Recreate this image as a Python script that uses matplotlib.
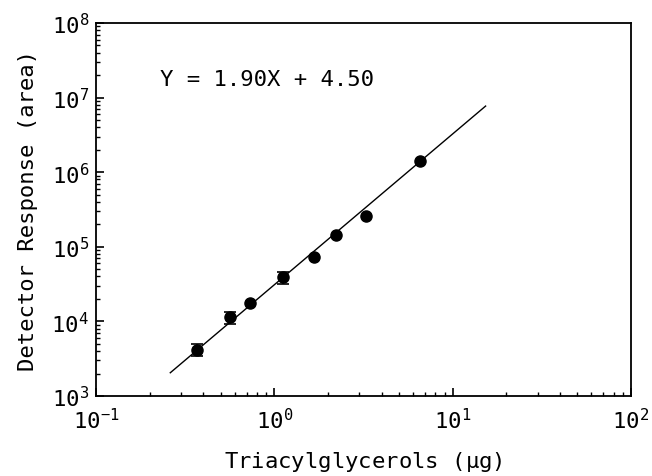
import numpy as np
import matplotlib
matplotlib.use('Agg')
import matplotlib.pyplot as plt
from matplotlib.ticker import LogLocator, NullFormatter

# %% Data
x_ug = [0.369, 0.561, 0.733, 1.113, 1.66, 2.23, 3.28, 6.59]
y_area = [4200, 11350, 17660, 38800, 74100, 144000, 259000, 1.41e6]
y_err = [800, 2000, 0, 7500, 0, 0, 0, 0]

fit_x = [0.261, 15.3]
fit_y = [2050, 7.7e6]
fit_label = 'Y = 1.90X + 4.50'

# %% Plot
plt.rcParams['font.family'] = ['DejaVu Sans Mono', 'DejaVu Sans']
plt.rcParams['mathtext.default'] = 'regular'

fig = plt.figure(figsize=(6.52, 4.77), dpi=100)
ax = fig.add_axes([96/652, 80/477, 535/652, 373/477])

ax.set_xscale('log')
ax.set_yscale('log')
ax.set_xlim(0.1, 100)
ax.set_ylim(1e3, 1e8)

ax.plot(fit_x, fit_y, color='black', lw=1.0)

x = np.array(x_ug)
y = np.array(y_area)
e = np.array(y_err, dtype=float)
ax.plot(x, y, 'o', color='black', ms=8)
m = e > 0
ax.errorbar(x[m], y[m], yerr=e[m], fmt='none', ecolor='black', elinewidth=1.2,
            capsize=4, capthick=1.2)

ax.text(0.12, 0.85, fit_label, transform=ax.transAxes, fontsize=16,
        va='center', ha='left')

ax.set_xlabel(r'Triacylglycerols ($\mu$g)', fontsize=16, labelpad=12)
ax.set_ylabel('Detector Response (area)', fontsize=16, labelpad=10)

ax.xaxis.set_major_locator(LogLocator(base=10, numticks=10))
ax.yaxis.set_major_locator(LogLocator(base=10, numticks=10))
ax.xaxis.set_minor_locator(LogLocator(base=10, subs=np.arange(2, 10), numticks=10))
ax.yaxis.set_minor_locator(LogLocator(base=10, subs=np.arange(2, 10), numticks=10))
ax.xaxis.set_minor_formatter(NullFormatter())
ax.yaxis.set_minor_formatter(NullFormatter())

ax.tick_params(which='both', direction='in', top=False, right=False, labelsize=16)
ax.tick_params(which='major', length=6, width=1.2)
ax.tick_params(axis='x', which='major', pad=8)
ax.tick_params(axis='y', which='major', pad=5)
ax.tick_params(which='minor', length=3, width=1.0)
for s in ax.spines.values():
    s.set_linewidth(1.3)

fig.savefig('out.png', dpi=100)
